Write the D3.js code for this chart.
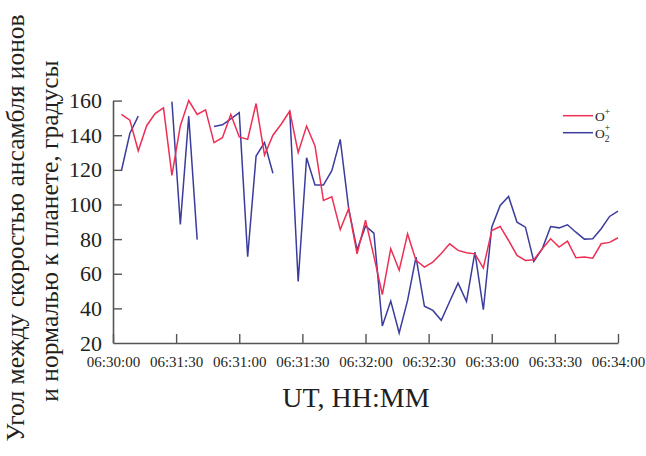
<!DOCTYPE html>
<html>
<head>
<meta charset="utf-8">
<script src="https://cdn.jsdelivr.net/npm/d3@7/dist/d3.min.js"></script>
<style>
  html, body { margin: 0; padding: 0; background: #fff; }
  svg { display: block; }
  text { font-family: "Liberation Serif", "Times New Roman", serif; fill: #231f20; }
</style>
</head>
<body>
<svg id="chart" width="646" height="456"></svg>
<script>
// ---- data ----
const seconds = [4, 8, 12, 16, 20, 24, 28, 32, 36, 40, 44, 48, 52, 56, 60, 64, 68, 72, 76, 80,
  84, 88, 92, 96, 100, 104, 108, 112, 116, 120, 124, 128, 132, 136, 140, 144, 148, 152, 156, 160,
  164, 168, 172, 176, 180, 184, 188, 192, 196, 200, 204, 208, 212, 216, 220, 224, 228, 232, 236, 240];

const oPlus = [152, 148.7, 131, 145.5, 152.5, 155.8, 116.8, 145.5, 160, 152, 154.7, 135.7, 138.6, 152, 139, 137.6, 158.3, 128.6, 140, 146.5,
  154, 130, 145.3, 133.8, 102.3, 104.4, 85.5, 97.6, 71.5, 91, 70, 48, 74.5, 62, 83, 67.7, 63.8, 66.7, 71.7, 77.3,
  73.5, 72.1, 71.5, 63.3, 85, 87.3, 79.2, 70.6, 67.7, 68.1, 74.4, 80.2, 75.4, 78.8, 69.2, 69.6, 69, 77.3, 78.1, 80.8];

const o2Plus = [119.5, 141, 151, null, null, null, 159.4, 88.5, 151, 79.7, null, 145, 146, 149.5, 153, 69.8, 128, 135.7, 118, null,
  154, 55.5, 127, 111.2, 111.2, 119.5, 137.6, 97.6, 73.8, 87.5, 83.5, 29.8, 44.2, 25.8, 44.6, 69.6, 41.2, 38.8, 33.1, 44,
  54.6, 44, 72.5, 39.2, 86.9, 99.4, 104.6, 89.8, 86.9, 67.1, 74.4, 87.3, 86.5, 88.3, 84, 80, 80.2, 86, 93.1, 96.2];

const xTickValues = [0, 30, 60, 90, 120, 150, 180, 210, 240];
const xTickLabels = ["06:30:00", "06:31:30", "06:31:00", "06:31:30", "06:32:00", "06:32:30", "06:33:00", "06:33:30", "06:34:00"];
const yTickValues = [20, 40, 60, 80, 100, 120, 140, 160];

const seriesNames = ["O", "O"];
const yTitleLines = ["Угол между скоростью ансамбля ионов", "и нормалью к планете, градусы"];
const xTitle = "UT, HH:MM";

// ---- layout ----
const svg = d3.select("#chart");
const mLeft = 113, mRight = 618, mTop = 100.6, mBottom = 343;
const axisColor = "#555";
const red = "#ee2f55";
const blue = "#3b3c9c";

const x = d3.scaleLinear().domain([0, 240]).range([mLeft, mRight]);
const y = d3.scaleLinear().domain([20, 160]).range([mBottom, mTop]);

// axes
const xAxis = d3.axisBottom(x)
  .tickValues(xTickValues)
  .tickFormat((d, i) => xTickLabels[i])
  .tickSizeInner(-9).tickSizeOuter(0).tickPadding(13);
const gx = svg.append("g").attr("transform", `translate(0,${mBottom})`).call(xAxis);
gx.select(".domain").attr("stroke", axisColor).attr("stroke-width", 1.6);
gx.selectAll(".tick line").attr("stroke", axisColor).attr("stroke-width", 1.4);
gx.selectAll(".tick text").attr("font-size", 15).attr("font-family", "Liberation Serif").attr("fill", "#231f20");

const yAxis = d3.axisLeft(y)
  .tickValues(yTickValues)
  .tickSizeInner(-9).tickSizeOuter(0).tickPadding(11);
const gy = svg.append("g").attr("transform", `translate(${mLeft},0)`).call(yAxis);
gy.select(".domain").attr("stroke", axisColor).attr("stroke-width", 1.6);
gy.selectAll(".tick line").attr("stroke", axisColor).attr("stroke-width", 1.4);
gy.selectAll(".tick text").attr("font-size", 22).attr("font-family", "Liberation Serif").attr("fill", "#231f20");
gy.selectAll(".tick").filter(d => d === 20).select("line").remove();

// lines
const line = d3.line()
  .defined(d => d[1] != null)
  .x(d => x(d[0]))
  .y(d => y(d[1]));

svg.append("path")
  .datum(seconds.map((s, i) => [s, o2Plus[i]]))
  .attr("fill", "none").attr("stroke", blue).attr("stroke-width", 1.5)
  .attr("stroke-linejoin", "miter").attr("d", line);

svg.append("path")
  .datum(seconds.map((s, i) => [s, oPlus[i]]))
  .attr("fill", "none").attr("stroke", red).attr("stroke-width", 1.5)
  .attr("stroke-linejoin", "miter").attr("d", line);

// legend
const lg = svg.append("g");
const legendColors = [red, blue];
legendColors.forEach((c, i) => {
  const ly = 115.7 + i * 17;
  lg.append("line").attr("x1", 563).attr("x2", 593).attr("y1", ly).attr("y2", ly)
    .attr("stroke", c).attr("stroke-width", 1.5);
  const t = lg.append("text").attr("x", 595).attr("y", ly + 5).attr("font-size", 13.5);
  t.append("tspan").text(seriesNames[i]);
  if (i === 1) {
    t.append("tspan").attr("font-size", 9.5).attr("dy", 4).text("2");
    t.append("tspan").attr("font-size", 9.5).attr("dx", -4.8).attr("dy", -10.5).text("+");
  } else {
    t.append("tspan").attr("font-size", 9.5).attr("dy", -6).text("+");
  }
});

// axis titles
svg.append("text")
  .attr("x", 356).attr("y", 407)
  .attr("text-anchor", "middle").attr("font-size", 28)
  .text(xTitle);

svg.append("text")
  .attr("transform", "translate(24,228) rotate(-90)")
  .attr("text-anchor", "middle").attr("font-size", 25.5)
  .text(yTitleLines[0]);
svg.append("text")
  .attr("transform", "translate(58,231) rotate(-90)")
  .attr("text-anchor", "middle").attr("font-size", 25.5)
  .text(yTitleLines[1]);
</script>
</body>
</html>
